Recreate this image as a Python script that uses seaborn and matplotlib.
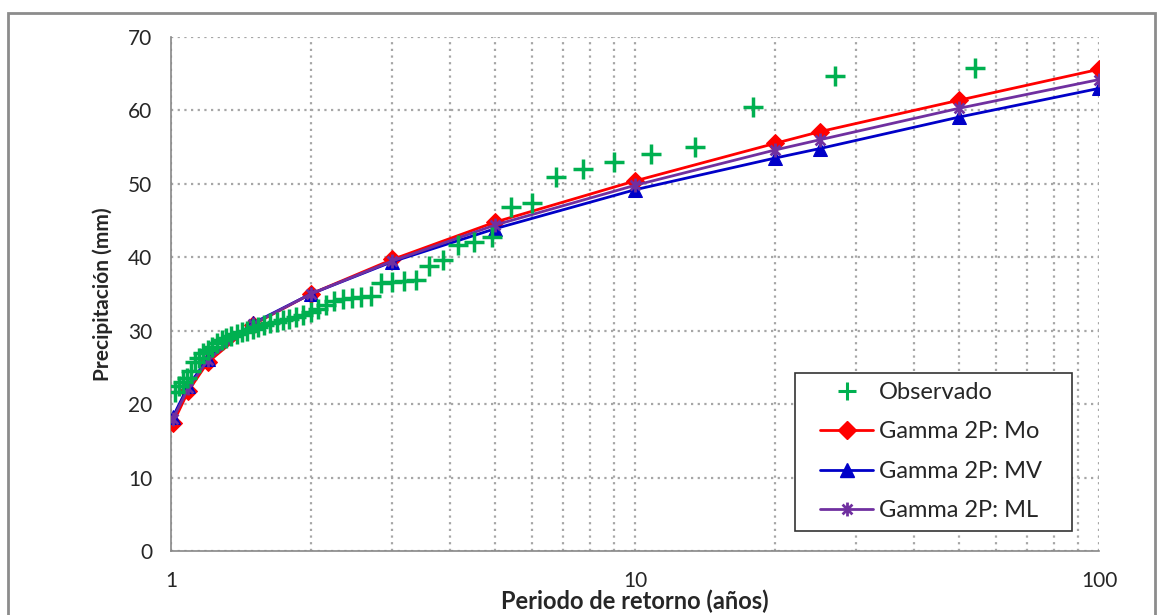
import numpy as np
import pandas as pd
import matplotlib
matplotlib.use("Agg")
import matplotlib.pyplot as plt
import seaborn as sns
from matplotlib.path import Path
from matplotlib.lines import Line2D
from matplotlib.patches import Rectangle
from matplotlib.ticker import FixedLocator, NullFormatter, LogLocator

# ---- data ----
obs_T = [54.0, 27.0, 18.0, 13.5, 10.8, 9.0, 7.714, 6.75, 6.0, 5.4, 4.909, 4.5, 4.154,
         3.857, 3.6, 3.375, 3.176, 3.0, 2.842, 2.7, 2.571, 2.455, 2.348, 2.25, 2.16,
         2.077, 2.0, 1.929, 1.862, 1.8, 1.742, 1.688, 1.636, 1.588, 1.543, 1.5, 1.459,
         1.421, 1.385, 1.35, 1.317, 1.286, 1.256, 1.227, 1.2, 1.174, 1.149, 1.125,
         1.102, 1.08, 1.059, 1.038, 1.019]
obs_P = [65.8, 64.7, 60.5, 55.0, 54.1, 53.0, 52.0, 51.0, 47.4, 46.8, 42.8, 42.1, 41.7,
         39.6, 38.8, 36.9, 36.8, 36.7, 36.5, 34.7, 34.6, 34.5, 34.3, 34.0, 33.5,
         33.0, 32.6, 32.2, 31.9, 31.6, 31.4, 31.2, 31.0, 30.8, 30.5, 30.3, 30.0,
         29.8, 29.6, 29.3, 29.0, 28.7, 28.3, 27.8, 27.4, 26.9, 26.3, 25.8,
         24.5, 23.5, 23.0, 22.5, 21.7]

fit_T = [1.01, 1.09, 1.2, 1.5, 2, 3, 5, 10, 20, 25, 50, 100]
mo_P = [17.4, 21.8, 25.7, 30.8, 35.0, 39.7, 44.8, 50.4, 55.5, 57.1, 61.4, 65.6]
mv_P = [18.3, 22.5, 26.2, 31.0, 35.0, 39.4, 43.9, 49.2, 53.5, 54.8, 59.1, 63.0]
ml_P = [18.0, 22.2, 26.0, 30.9, 35.0, 39.5, 44.4, 49.8, 54.6, 56.0, 60.3, 64.2]

labels = ["Observado", "Gamma 2P: Mo", "Gamma 2P: MV", "Gamma 2P: ML"]
c_obs, c_mo, c_mv, c_ml = "#00B050", "#FF0000", "#0000C8", "#7030A0"

sns.set_style("white")
plt.rcParams["font.family"] = ["Lato", "DejaVu Sans"]

# asterisk marker (X + vertical)
d = 0.7071
ast = Path([(0, -1), (0, 1), (-d, -d), (d, d), (-d, d), (d, -d)],
           [Path.MOVETO, Path.LINETO, Path.MOVETO, Path.LINETO, Path.MOVETO, Path.LINETO])

W, H = 1161, 615
X0, X1, Y0, Y1 = 171, 1099, 551, 37   # axes pixel box
fig = plt.figure(figsize=(W/100, H/100), dpi=100)
ax = fig.add_axes([X0/W, 1-Y0/H, (X1-X0)/W, (Y0-Y1)/H])

def axx(px):
    return (px - X0) / (X1 - X0)

def axy(py):
    return (Y0 - py) / (Y0 - Y1)

df_fit = pd.DataFrame({"T": fit_T, "Mo": mo_P, "MV": mv_P, "ML": ml_P})
df_obs = pd.DataFrame({"T": obs_T, "P": obs_P})

sns.lineplot(data=df_fit, x="T", y="Mo", ax=ax, color=c_mo, lw=2, marker="D", ms=9,
             mec=c_mo, mfc=c_mo, zorder=3)
sns.lineplot(data=df_fit, x="T", y="MV", ax=ax, color=c_mv, lw=2, marker="^", ms=10,
             mec=c_mv, mfc=c_mv, zorder=3)
sns.lineplot(data=df_fit, x="T", y="ML", ax=ax, color=c_ml, lw=2, marker=ast, ms=10,
             mec=c_ml, mew=2, zorder=4)
sns.scatterplot(data=df_obs, x="T", y="P", ax=ax, marker="+", s=190, color=c_obs,
                linewidth=2.5, zorder=5)

ax.set_xscale("log")
ax.set_xlim(1, 100)
ax.set_ylim(0, 70)
ax.set_yticks(np.arange(0, 71, 10))
ax.xaxis.set_major_locator(FixedLocator([1, 10, 100]))
ax.set_xticklabels(["1", "10", "100"])
ax.xaxis.set_minor_locator(LogLocator(base=10, subs=np.arange(2, 10)))
ax.xaxis.set_minor_formatter(NullFormatter())
ax.tick_params(axis="x", which="minor", length=0)
ax.tick_params(axis="both", which="major", length=5.5, width=1, color="#888888",
               labelsize=15, direction="out")
ax.tick_params(axis="y", which="major", pad=8)
ax.tick_params(axis="x", which="major", pad=9)

ax.grid(True, which="major", axis="y", color="#A6A6A6", ls=(0, (1, 2)), lw=1.6)
ax.grid(True, which="both", axis="x", color="#A6A6A6", ls=(0, (1, 2)), lw=1.6)
ax.set_axisbelow(True)

for s in ["top", "right"]:
    ax.spines[s].set_visible(False)
for s in ["left", "bottom"]:
    ax.spines[s].set_color("#888888")
    ax.spines[s].set_linewidth(1.2)

ax.set_xlabel("Periodo de retorno (años)", fontsize=17, fontweight="bold", labelpad=-1)
ax.set_ylabel("Precipitación (mm)", fontsize=15, fontweight="bold", labelpad=11)

# legend frame drawn separately (Excel-style wide padding)
ax.add_patch(Rectangle((axx(795), axy(531)), axx(1072) - axx(795), axy(373) - axy(531),
                       transform=ax.transAxes, facecolor="white", edgecolor="#333333",
                       lw=1.2, zorder=6, clip_on=False))

handles = [
    Line2D([], [], ls="none", marker="+", ms=13, mew=2.2, color=c_obs),
    Line2D([], [], color=c_mo, lw=2, marker="D", ms=9),
    Line2D([], [], color=c_mv, lw=2, marker="^", ms=10),
    Line2D([], [], color=c_ml, lw=2, marker=ast, ms=10, mew=2),
]
leg = ax.legend(handles, labels, loc="upper left", bbox_to_anchor=(axx(820), axy(382)),
                fontsize=17, frameon=False, handlelength=2.25, labelspacing=0.78,
                borderpad=0, handletextpad=0.25, borderaxespad=0)
leg.set_zorder(7)

fig.patches.append(Rectangle((8/W, -0.1), 1147/W, 1 - 13/H + 0.1,
                             transform=fig.transFigure, fill=False,
                             edgecolor="#8C8C8C", lw=2, clip_on=False))

fig.savefig("out.png", dpi=100)
